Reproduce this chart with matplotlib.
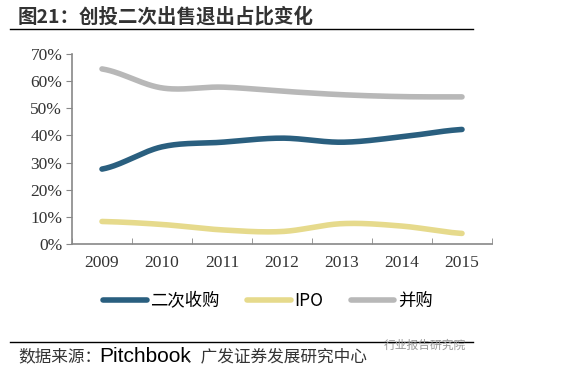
import numpy as np
import matplotlib
matplotlib.use("Agg")
import matplotlib.pyplot as plt
from matplotlib.lines import Line2D

years = ["2009", "2010", "2011", "2012", "2013", "2014", "2015"]
secondary = [27.6, 35.8, 37.5, 39.0, 37.5, 39.5, 42.2]
ipo = [8.3, 7.2, 5.2, 4.6, 7.5, 6.6, 3.9]
mna = [64.5, 57.5, 57.8, 56.3, 55.0, 54.3, 54.2]
series_names = ["二次收购", "IPO", "并购"]
colors = ["#2a5f7f", "#e6da8c", "#b8b8b8"]
yticks = [0, 10, 20, 30, 40, 50, 60, 70]

CJK = ["Noto Sans CJK SC", "DejaVu Sans"]
SERIF = ["Liberation Serif", "Noto Sans CJK SC"]

def smooth(x, y, n=30):
    x = np.asarray(x, float); y = np.asarray(y, float)
    m = np.zeros_like(y)
    m[1:-1] = (y[2:] - y[:-2]) / (x[2:] - x[:-2])
    m[0] = (y[1] - y[0]) / (x[1] - x[0]) * 0.5
    m[-1] = (y[-1] - y[-2]) / (x[-1] - x[-2]) * 0.5
    xs, ys = [], []
    for i in range(len(x) - 1):
        h = x[i + 1] - x[i]
        t = np.linspace(0, 1, n, endpoint=False)
        h00 = 2*t**3 - 3*t**2 + 1; h10 = t**3 - 2*t**2 + t
        h01 = -2*t**3 + 3*t**2; h11 = t**3 - t**2
        xs.append(x[i] + t*h)
        ys.append(h00*y[i] + h10*h*m[i] + h01*y[i+1] + h11*h*m[i+1])
    xs.append([x[-1]]); ys.append([y[-1]])
    return np.concatenate(xs), np.concatenate(ys)

fig = plt.figure(figsize=(5.65, 3.84), dpi=100)
ax = fig.add_axes([72/565, 1-244/384, 420/565, 190/384])

x = np.arange(len(years))
for vals, c in zip([secondary, ipo, mna], colors):
    xs, ys = smooth(x, vals)
    ax.plot(xs, ys, color=c, lw=4, solid_capstyle="round")

ax.set_xlim(-0.5, len(years) - 0.5)
ax.set_ylim(0, 70)
ax.set_yticks(yticks)
ax.set_yticklabels([f"{v}%" for v in yticks], family=SERIF, fontsize=12.5, color="#333333")
ax.set_xticks(x)
ax.set_xticklabels(years, family=SERIF, fontsize=12.5, color="#333333")
ax.set_xticks(np.arange(len(years) + 1) - 0.5, minor=True)
ax.tick_params(axis="x", which="major", length=0, pad=8)
ax.tick_params(axis="x", which="minor", length=4, direction="in", color="#888888")
ax.tick_params(axis="y", length=4, direction="out", color="#888888", pad=3)
for s in ["top", "right"]:
    ax.spines[s].set_visible(False)
for s in ["left", "bottom"]:
    ax.spines[s].set_color("#888888")
    ax.spines[s].set_linewidth(1.2)

handles = [Line2D([], [], color=c, lw=4, solid_capstyle="round") for c in colors]
fig.legend(handles, series_names, loc="center", bbox_to_anchor=(268/565, 1-301/384),
           ncol=3, frameon=False, prop={"family": ["Noto Sans CJK SC"], "size": 12.5},
           handlelength=2.5, columnspacing=1.6, handletextpad=0.2)

fig.text(18/565, 1-17/384, "图21：创投二次出售退出占比变化", family=CJK, fontsize=14,
         fontweight="bold", color="#333333", va="center")
fig.add_artist(Line2D([10/565, 473/565], [1-29/384, 1-29/384], color="black", lw=1))
fig.add_artist(Line2D([10/565, 473/565], [1-342/384, 1-342/384], color="black", lw=1))
fig.text(18/565, 1-357/384, "数据来源：", family=CJK, fontsize=12, color="#333333", va="center")
fig.text(99/565, 1-356/384, "Pitchbook", family=["Liberation Sans"], fontsize=15, color="black", va="center")
fig.text(184/565, 1-357/384, "、广发证券发展研究中心", family=CJK, fontsize=12, color="#333333", va="center")
fig.text(384/565, 1-345/384, "行业报告研究院", family=CJK, fontsize=8.5, color="#999999", va="center")

fig.savefig("out.png", dpi=100, facecolor="white")
